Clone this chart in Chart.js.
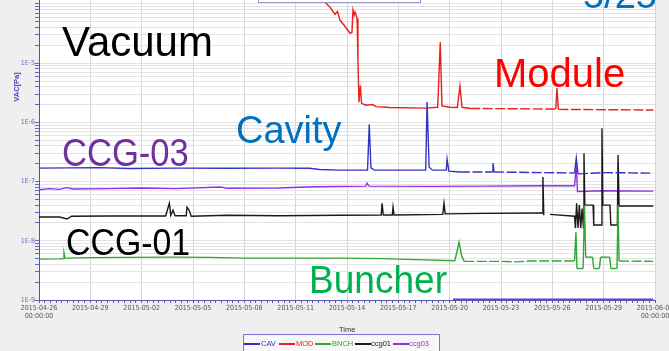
<!DOCTYPE html>
<html lang="en">
<head>
<meta charset="UTF-8">
<title>Vacuum 5/25</title>
<script src="https://cdn.jsdelivr.net/npm/chart.js@4"></script>
<style>
  body { margin: 0; background: #efefef; font-family: "Liberation Sans", Arial, sans-serif; overflow: hidden; }
  .wrap { position: relative; width: 669px; height: 351px; overflow: hidden; }
  canvas { position: absolute; left: 0; top: 0; }
  .note { position: absolute; line-height: 1; white-space: nowrap; transform-origin: left top; }
  .titlebox { position: absolute; left: 258px; top: -20px; width: 161px; height: 21px; background: #fff; border: 1px solid #9a9ac8; }
  .axtitle { position: absolute; font-size: 7.5px; line-height: 8px; white-space: nowrap; }
  .legend { position: absolute; left: 243px; top: 334px; width: 195px; height: 24px; border: 1px solid #7a7ad0; background: #f7f7f7; }
  .legend .ln { position: absolute; top: 8px; width: 16px; height: 1.5px; }
  .legend .tx { position: absolute; top: 5px; font-size: 7.5px; line-height: 8px; }
</style>
</head>
<body>
<div class="wrap">
  <canvas id="chart" width="669" height="351"></canvas>
  <div class="titlebox"></div>
  <div class="note" style="left:583px;top:-24px;font-size:38px;color:#0070c0">5/25</div>
  <div class="note" style="left:62px;top:21px;font-size:42px;color:#000">Vacuum</div>
  <div class="note" style="left:494px;top:53px;font-size:40px;color:#ff0000">Module</div>
  <div class="note" style="left:236px;top:111px;font-size:38px;color:#0070c0">Cavity</div>
  <div class="note" style="left:62px;top:134px;font-size:38px;color:#7030a0;transform:scaleX(0.91)">CCG-03</div>
  <div class="note" style="left:66px;top:225px;font-size:36px;color:#000;transform:scaleX(0.94)">CCG-01</div>
  <div class="note" style="left:309px;top:260px;font-size:39px;color:#00b050;transform:scaleX(0.95)">Buncher</div>
  <div class="axtitle" style="left:339px;top:326px;color:#333">Time</div>
  <div class="axtitle" style="left:2px;top:83px;color:#4545c8;font-weight:bold;transform:rotate(-90deg)">VAC[Pa]</div>
  <div class="legend" id="legend"></div>
</div>
<script>
// x = days since 2015-04-26 00:00, y = pressure [Pa]
const xTickLabels = ['2015-04-26', '2015-04-29', '2015-05-02', '2015-05-05', '2015-05-08', '2015-05-11',
  '2015-05-14', '2015-05-17', '2015-05-20', '2015-05-23', '2015-05-26', '2015-05-29', '2015-06-01'];
const yDecades = [-9, -8, -7, -6, -5, -4];
const yTickLabels = ['1E-9', '1E-8', '1E-7', '1E-6', '1E-5', ''];

const cav = [[0, 1.69e-7], [3.5, 1.72e-7], [5.3, 1.66e-7], [8, 1.69e-7], [11, 1.68e-7], [14, 1.69e-7],
  [15.8, 1.68e-7], [16.4, 1.6e-7], [17.6, 1.56e-7], [19.2, 1.56e-7], [19.3, 9.3e-7], [19.4, 1.7e-7],
  [19.6, 1.56e-7], [22.6, 1.56e-7], [22.68, 2.2e-6], [22.8, 1.75e-7], [23.0, 1.56e-7], [23.8, 1.56e-7],
  [23.85, 2.4e-7], [23.95, 1.5e-7], [24.6, 1.45e-7], [26.5, 1.45e-7], [26.53, 2.05e-7], [26.6, 1.45e-7],
  [31.3, 1.4e-7], [31.4, 2.5e-7], [31.5, 1.35e-7], [33, 1.42e-7], [35.9, 1.39e-7]];

const mod = [[16.5, 1.3e-4], [16.72, 1.07e-4], [17.01, 8.8e-5], [17.3, 6.7e-5], [17.45, 7.5e-5],
  [17.59, 5.3e-5], [17.88, 4.2e-5], [18.05, 3.6e-5], [18.18, 3.2e-5], [18.29, 3.3e-5], [18.35, 7.9e-5],
  [18.42, 6.5e-5], [18.47, 7.3e-5], [18.59, 5.7e-5], [18.64, 1.1e-5], [18.7, 2.2e-6], [18.78, 4.2e-6],
  [18.85, 2.1e-6], [19.1, 1.95e-6], [19.5, 2.0e-6], [19.7, 1.85e-6], [20.5, 1.78e-6], [22.6, 1.74e-6],
  [23.3, 1.8e-6], [23.45, 2.26e-5], [23.55, 1.9e-6], [24.0, 1.8e-6], [24.45, 1.78e-6], [24.6, 4.1e-6],
  [24.72, 1.8e-6], [25.2, 1.72e-6], [28, 1.7e-6], [30.2, 1.68e-6], [30.27, 3.8e-6], [30.35, 1.66e-6],
  [33, 1.64e-6], [35.9, 1.62e-6]];

const bnch = [[0, 4.9e-9], [1.2, 4.95e-9], [1.42, 5.0e-9], [1.46, 6.2e-9], [1.52, 5.1e-9], [3, 5.2e-9],
  [5, 5.25e-9], [8, 5.3e-9], [10, 5.25e-9], [12, 5.1e-9], [15, 5.1e-9], [17.6, 5.1e-9], [20, 5.0e-9],
  [22, 4.8e-9], [24.3, 4.6e-9], [24.45, 7e-9], [24.55, 9.5e-9], [24.7, 5.5e-9], [24.85, 4.5e-9],
  [27, 4.5e-9], [27.9, 4.4e-9], [28.7, 4.55e-9], [31.3, 4.55e-9], [31.38, 1.4e-8], [31.44, 3.4e-9],
  [31.8, 3.4e-9], [31.88, 4e-8], [31.95, 5.3e-9], [32.35, 5.3e-9], [32.42, 3.4e-9], [32.75, 3.4e-9],
  [32.82, 5.3e-9], [33.35, 5.3e-9], [33.42, 3.4e-9], [33.78, 3.4e-9], [33.84, 4e-8], [33.9, 4.55e-9],
  [35.9, 4.5e-9]];

const ccg01 = [[0, 2.52e-8], [1.2, 2.52e-8], [1.64, 2.33e-8], [1.9, 2.6e-8], [4, 2.62e-8], [7.4, 2.62e-8],
  [7.62, 4.3e-8], [7.7, 2.7e-8], [7.83, 3.3e-8], [7.95, 2.65e-8], [8.6, 2.65e-8], [8.65, 3.7e-8],
  [8.77, 3.3e-8], [8.9, 2.6e-8], [11, 2.7e-8], [14, 2.65e-8], [17.6, 2.7e-8], [20.0, 2.72e-8],
  [20.05, 4.3e-8], [20.12, 2.72e-8], [20.65, 2.72e-8], [20.69, 3.7e-8], [20.75, 2.72e-8], [23.6, 2.8e-8],
  [23.67, 4.3e-8], [23.74, 2.85e-8], [26, 2.9e-8], [29.4, 2.94e-8], [29.45, 1.19e-7], [29.5, 2.7e-8],
  [29.57, null], [29.86, 2.8e-8], [31.3, 2.6e-8], [31.35, 1.64e-8], [31.42, 4.3e-8], [31.5, 1.64e-8],
  [31.58, 4.0e-8], [31.66, 1.64e-8], [31.74, 3.5e-8], [31.82, 1.64e-8], [31.85, 3.0e-7], [31.9, 4.0e-8],
  [32.38, 4.0e-8], [32.42, 1.85e-8], [32.86, 1.85e-8], [32.9, 8e-7], [32.95, 4.0e-8], [33.37, 4.0e-8],
  [33.42, 1.85e-8], [33.8, 1.85e-8], [33.84, 2.8e-7], [33.9, 3.86e-8], [35.9, 3.86e-8]];

const ccg03 = [[0, 7.3e-8], [0.6, 7.6e-8], [1.2, 7.4e-8], [1.6, 7.9e-8], [2, 7.5e-8], [4, 7.6e-8],
  [6, 7.8e-8], [8, 7.6e-8], [10.6, 8.1e-8], [11, 7.7e-8], [14, 7.8e-8], [16, 8.2e-8], [19.1, 8.4e-8],
  [19.17, 9.4e-8], [19.3, 8.4e-8], [23, 8.3e-8], [26, 8.4e-8], [29, 8.5e-8], [31.3, 8.5e-8],
  [31.4, 1.9e-7], [31.47, 6.8e-8], [33, 7.0e-8], [35.9, 6.9e-8]];

// second ccg03 trace sitting on the 1E-9 floor
const ccg03Floor = [[24.19, 1e-9], [35.9, 1e-9]];

const series = [
  { label: 'CAV', data: cav, color: '#3434c4', dashFrom: 24.6 },
  { label: 'MOD', data: mod, color: '#e8201c', dashFrom: 25.2 },
  { label: 'BNCH', data: bnch, color: '#2eaa2e', dashFrom: 24.85 },
  { label: 'ccg01', data: ccg01, color: '#1a1a1a' },
  { label: 'ccg03', data: ccg03, color: '#9030e8' }
];

const tickFont = { family: "'Liberation Sans Narrow', 'DejaVu Sans Condensed', sans-serif", size: 7, lineHeight: 1.15 };

function isLabelDay(v) {
  const r = Math.round(v);
  return Math.abs(v - r) < 1e-6 && r % 3 === 0;
}

// logged data has small gaps late in the run: dash only the flat stretches
function dashed(from) {
  return (ctx) => {
    const a = ctx.p0.parsed, b = ctx.p1.parsed;
    const flat = Math.max(a.y, b.y) / Math.min(a.y, b.y) < 1.3;
    return a.x >= from && flat ? [10, 2.5] : undefined;
  };
}

const datasets = series.map((s) => ({
  label: s.label,
  data: s.data.map((p) => ({ x: p[0], y: p[1] })),
  borderColor: s.color,
  borderWidth: 1.4,
  pointRadius: 0,
  tension: 0,
  spanGaps: false,
  segment: s.dashFrom ? { borderDash: dashed(s.dashFrom) } : undefined
}));
datasets.push({
  label: 'ccg03-floor',
  data: ccg03Floor.map((p) => ({ x: p[0], y: p[1] })),
  borderColor: '#7b2fe0',
  borderWidth: 3,
  pointRadius: 0
});

const plotBg = {
  id: 'plotBg',
  beforeDraw(chart) {
    const { ctx, chartArea: a } = chart;
    ctx.save();
    ctx.fillStyle = '#ffffff';
    ctx.fillRect(a.left, a.top, a.right - a.left, a.bottom - a.top);
    ctx.restore();
  }
};

new Chart(document.getElementById('chart'), {
  type: 'line',
  data: { datasets },
  plugins: [plotBg],
  options: {
    responsive: false,
    animation: false,
    layout: { padding: { top: 0, right: 14, bottom: 0, left: 0 } },
    plugins: { legend: { display: false }, tooltip: { enabled: false } },
    scales: {
      x: {
        type: 'linear',
        min: 0,
        max: 36,
        afterBuildTicks(scale) {
          const t = [];
          for (let i = 0; i <= 108; i++) t.push({ value: i / 3 });
          scale.ticks = t;
        },
        afterFit(scale) {
          scale.height = 51;
          scale.paddingLeft = 0;
          scale.paddingRight = 0;
        },
        ticks: {
          autoSkip: false,
          maxRotation: 0,
          minRotation: 0,
          padding: 1,
          color: '#555',
          font: tickFont,
          callback(v) {
            if (!isLabelDay(v)) return '';
            const i = Math.round(v) / 3;
            const s = xTickLabels[i];
            return (i === 0 || i === xTickLabels.length - 1) ? [s, '00:00:00'] : s;
          }
        },
        grid: {
          color: (ctx) => (ctx.tick && isLabelDay(ctx.tick.value) ? '#d6d6d6' : 'rgba(0,0,0,0)'),
          tickColor: '#5a5aa8',
          tickLength: 3
        },
        border: { color: '#5a5ab0', width: 1 }
      },
      y: {
        type: 'logarithmic',
        min: 1e-9,
        max: 1.168e-4,
        afterBuildTicks(scale) {
          const t = [];
          yDecades.forEach((e, i) => {
            const n = i === yDecades.length - 1 ? 1 : 9;
            for (let s = 1; s <= n; s++) t.push({ value: s * Math.pow(10, e), major: s === 1 });
          });
          scale.ticks = t;
        },
        afterFit(scale) {
          scale.width = 39;
          scale.paddingTop = 0;
          scale.paddingBottom = 0;
        },
        ticks: {
          autoSkip: false,
          padding: 0,
          color: '#6b6bd8',
          font: tickFont,
          callback(v, i, ticks) {
            if (!ticks[i].major) return '';
            return yTickLabels[yDecades.indexOf(Math.round(Math.log10(v)))];
          }
        },
        grid: {
          color: '#e3e3e3',
          tickColor: '#6666cc',
          tickLength: 4
        },
        border: { color: '#5050c8', width: 1 }
      }
    }
  }
});

// legend box under the plot
const legendPos = [[244, 261], [279, 296], [315, 332], [355, 371], [393, 409]];
const legendEl = document.getElementById('legend');
series.forEach((s, i) => {
  const ln = document.createElement('div');
  ln.className = 'ln';
  ln.style.left = (legendPos[i][0] - 244) + 'px';
  ln.style.background = s.color;
  const tx = document.createElement('div');
  tx.className = 'tx';
  tx.style.left = (legendPos[i][1] - 244) + 'px';
  tx.style.color = s.color;
  tx.textContent = s.label;
  legendEl.appendChild(ln);
  legendEl.appendChild(tx);
});
</script>
</body>
</html>
